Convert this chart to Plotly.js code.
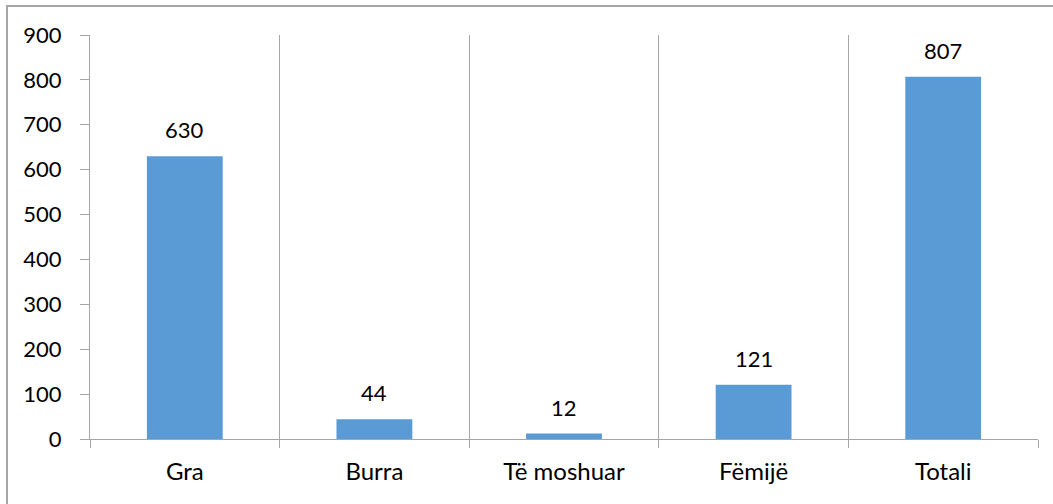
<!DOCTYPE html>
<html>
<head>
<meta charset="utf-8">
<script src="https://cdn.plot.ly/plotly-3.0.1.min.js"></script>
<style>html,body{margin:0;padding:0;background:#fff;}#chart{width:1053px;height:504px;}</style>
</head>
<body>
<div id="chart"></div>
<script>
const categories = ["Gra", "Burra", "Të moshuar", "Fëmijë", "Totali"];
const values = [630, 44, 12, 121, 807];
const yTicks = [0, 100, 200, 300, 400, 500, 600, 700, 800, 900];

const FONT = "Lato, 'Open Sans', 'Liberation Sans', sans-serif";
const GRID = "#a6a6a6";
const FS = 22;
const FSX = 24;

const trace = {
  type: "bar",
  x: categories,
  y: values,
  width: 0.4,
  marker: {color: "#5b9bd5", line: {width: 0}},
  hoverinfo: "skip"
};

const annotations = categories.map((c, i) => ({
  x: c, y: values[i], xref: "x", yref: "y",
  text: String(values[i]), showarrow: false,
  yanchor: "bottom", yshift: 11,
  font: {family: FONT, size: FS, color: "#000"}
}));

const layout = {
  width: 1053, height: 504,
  margin: {l: 90, r: 15, t: 35, b: 65},
  paper_bgcolor: "#fff", plot_bgcolor: "#fff",
  showlegend: false,
  bargap: 0.6,
  font: {family: FONT, size: FS, color: "#000"},
  xaxis: {
    type: "category",
    tickson: "boundaries",
    showgrid: true, gridcolor: GRID, gridwidth: 1,
    showline: true, linecolor: GRID, linewidth: 1,
    ticks: "outside", ticklen: 8, tickcolor: GRID,
    ticklabelstandoff: 11,
    tickfont: {family: FONT, size: FSX, color: "#000"},
    fixedrange: true, zeroline: false
  },
  yaxis: {
    range: [0, 900],
    tickvals: yTicks,
    ticktext: yTicks.map(String),
    showgrid: false,
    showline: true, linecolor: GRID, linewidth: 1,
    ticks: "outside", ticklen: 9, tickcolor: GRID,
    ticklabelstandoff: 14,
    tickfont: {family: FONT, size: FS, color: "#000"},
    zeroline: false, fixedrange: true
  },
  annotations: annotations,
  shapes: [{
    type: "rect", xref: "paper", yref: "paper",
    x0: (7 - 90) / 948, x1: 1.05,
    y0: -0.3, y1: (439 - 6) / 404,
    line: {color: "#a6a6a6", width: 2}, layer: "below"
  }]
};

Plotly.newPlot("chart", [trace], layout, {staticPlot: true, displayModeBar: false});
</script>
</body>
</html>
